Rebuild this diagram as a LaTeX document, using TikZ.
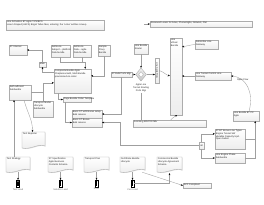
\documentclass[tikz,border=0pt]{standalone}
\usepackage{fontspec}
\setmainfont{Liberation Sans}
\usetikzlibrary{arrows.meta,shadows,shapes.geometric}
\tikzset{
 bx/.style={draw=gray!65, line width=0.35pt, top color=white, bottom color=gray!14, drop shadow={shadow xshift=0.6pt,shadow yshift=-0.6pt,opacity=0.25,fill=gray}, inner sep=0pt},
 txt/.style={font=\fontsize{2.35}{2.8}\selectfont, inner sep=0.8pt, align=left, text=black!85},
 con/.style={draw=gray!75, line width=0.35pt},
 arr/.style={con, -{Stealth[length=2pt,width=1.8pt,color=black]}},
 docst/.style={draw=gray!65, line width=0.35pt, top color=white, bottom color=gray!14},
 pnode/.style={inner sep=0pt, minimum width=3.2pt, minimum height=7pt},
}
\newcommand\mybx[6]{%
 \node[bx, minimum width={(#4-#2)*1pt}, minimum height={(#5-#3)*1pt}] (#1) at ({(#2+#4)/2},{(#3+#5)/2}) {};
 \node[txt, anchor=north west] at (#1.north west) {#6};}
\newcommand\mydoc[6]{%
 \fill[gray, opacity=0.25] ({#2+0.6},{#3+0.6}) -- ({#4+0.6},{#3+0.6}) -- ({#4+0.6},{#5-1.4}) .. controls ({#4-(#4-#2)*0.3+0.6},{#5-4.4}) and ({#2+(#4-#2)*0.4+0.6},{#5+2.6}) .. ({#2+0.6},{#5+0.6}) -- cycle;
 \draw[docst] (#2,#3) -- (#4,#3) -- (#4,{#5-2}) .. controls ({#4-(#4-#2)*0.3},{#5-5}) and ({#2+(#4-#2)*0.4},{#5+2}) .. (#2,#5) -- cycle;
 \node[inner sep=0pt, minimum width={(#4-#2)*1pt}, minimum height={(#5-#3)*1pt}] (#1) at ({(#2+#4)/2},{(#3+#5)/2}) {};
 \node[txt, anchor=north west] at (#1.north west) {#6};}
\newcommand\myperson[4]{%
 \node[pnode] (#1) at (#2,#3) {};
 \draw[black, line width=0.35pt, fill=white] ({#2-1.6},{#3-3.5}) rectangle ({#2+1.6},{#3+3.5});
 \fill[black] (#2,{#3-2.1}) circle (0.75);
 \fill[black] ({#2-0.9},{#3-1.1}) rectangle ({#2+0.9},{#3+2.9});
 \node[txt, anchor=north, align=center, text=black!60] at (#2,{#3+3.8}) {#4};}
\begin{document}
\begin{tikzpicture}[x=1pt,y=-1pt]
\useasboundingbox (0,0) rectangle (264,204);
\fill[white] (0,0) rectangle (264,204);

% boxes
\mybx{title}{6}{20}{104}{30}{Line Activation BT Agile TJ/S/BCS\\Lorem Draped (LBCS) Brigat Tellus Mes, entering; the `Lotus' writhes Lineup}
\mybx{topr}{150}{21}{252}{27}{Reserved Lorem for Aries, Phone/Agile, Network, Plat}
\mybx{A}{9}{45}{27}{55}{ST Internal}
\mybx{S}{39}{62}{46}{67}{Main}
\mybx{B}{51}{45}{70}{57}{Settle via\\Subject -- platform\\Data bundle}
\mybx{C}{73}{45}{91}{57}{Settle via\\Data -- agile\\Data bundle}
\mybx{D}{98}{45}{110}{56}{Sample\\Proxy\\Bundle}
\mybx{main}{54}{69}{91}{93}{Composite Bundle Agile\\Chaptersocket2, Multi Bundle\\provisioned via order}
\mybx{E}{9}{85}{31}{100}{Self-sufficient\\Subbundle}
\mybx{F}{33}{101}{53}{117}{Transport Model\\Lifecycle\\Subbundle}
\mybx{G}{63}{97}{91}{102}{Page Bundle Order Template}
\mybx{H}{72}{110}{102}{118}{Basic ST with Bonus setup\\Bulk reserve}
\mybx{I}{72}{118}{102}{127}{Basic ST Bonus\\Bulk reserve}
\mybx{MF}{111}{72}{132}{77}{ST Bulk Ports Mgr}
\mybx{LB}{134}{44}{148}{54}{Line Bundle\\Router}
\mybx{narrow}{155}{58}{159}{83}{}
\node[txt, rotate=-90] at (narrow.center) {Line Agile Flow};
\mybx{tall}{170}{38}{182}{115}{Line\\Virtual\\Bundle}
\mybx{SG}{195}{40}{218}{49}{Subscribe Line\\Gateway}
\mybx{LT}{195}{72}{231}{80}{Line Tunnel Control Line\\Gateway}
\mybx{BR}{233}{111}{259}{121}{Line Bundle BT PC\\Agile}
\mybx{INC}{133}{120}{206}{127}{Incoming ERI/CRI Mbr}
\mybx{Q1}{215}{129}{245}{149}{ST BT Bonus Line Types\\Engine Tunnel SW\\Variable Capacity Upd.\\Open Suites}
\mybx{Q2}{215}{153}{245}{163}{Line Engine Phase\\Subbundle}
\mybx{jn}{199}{142}{204}{149}{}
\node[txt] at (jn.center) {alt};
\mybx{P}{183}{183}{211}{188}{SCF Compliant}

% gateway
\node[diamond, draw=gray!70, line width=0.35pt, top color=gray!10, bottom color=gray!45, minimum width=11pt, minimum height=13pt, inner sep=0pt] (gw) at (141,74.5) {};
\node[diamond, draw=gray!60, fill=white, minimum width=5pt, minimum height=6pt, inner sep=0pt] at (gw.center) {};
\node[txt, align=center, anchor=north] (gwl) at (141,83) {Agile Line\\Tunnel Routing\\Ports Mgr};

% documents
\mydoc{TR}{22}{132}{45}{148}{Test Reporter}
\mydoc{K}{6}{157}{30}{172}{Test Strategy}
\mydoc{L}{48}{157}{73}{172}{ST Specification\\Agile Business\\Contents Schema}
\mydoc{M}{84}{157}{109}{172}{Transport Plan}
\mydoc{N}{120}{157}{145}{172}{Certificate Bundle\\Lifecycle}
\mydoc{O}{157}{157}{182}{172}{Commercial Bundle\\Lifecycle Agreement\\Schema}

% people
\myperson{iK}{18}{183.5}{Test Lead}
\myperson{iL}{60.5}{183.5}{Solution Lead}
\myperson{iM}{96.5}{183.5}{PCO}
\myperson{iN}{132.5}{183.5}{Cert Lead}

% connectors
\draw[arr] (S.north) |- (A.east);
\draw[arr] ([yshift=-3pt]main.north west) -| (S.south);
\draw[arr] (B.south) -- ++(0,5) -| ([xshift=-6pt]main.north east);
\draw[con] (C.south) -- ++(0,5);
\draw[arr] (D.south) |- ([yshift=-7pt]main.north east);
\draw[arr] (E.east) -- ++(12,0) |- ([yshift=-14pt]main.north west);
\draw[con] (F.north) -- ++(0,-8.5);
\draw[arr] ([xshift=4pt]main.south west) |- (G.west);
\draw[arr] ([xshift=2pt]G.south west) |- (I.west);
\draw[arr] (MF.south) |- (H.east);
\draw[arr] (jn.west) -| ([xshift=18pt]I.east) -- (I.east);
\draw[arr] (jn.north) |- ([yshift=-5pt]Q1.north west);
\draw[arr] (jn.south) |- (Q2.west);
\draw[arr] (Q2.east) -| ([xshift=-4pt]BR.south east);
\draw[con] (Q1.east) -- ++(10,0);
\draw[arr] ([xshift=-10pt]BR.north east) .. controls (254,92) and (246,77) .. (LT.east);
\node[txt, anchor=west] at (236,80) {Open Flow};
\draw[arr] (LT.west) -- (tall.east |- LT.west);
\draw[arr] (SG.west) .. controls (190,45) and (187,46) .. ([yshift=-9pt]tall.north east);
\draw[arr] ([xshift=38pt]INC.north west) -- ++(2,-2) -- ([xshift=1pt]tall.south);
\draw[arr] (LB.south) -- (gw.north);
\draw[arr] (MF.east) -- (gw.west);
\draw[arr] (gw.east) -- (narrow.west |- gw.east);
\draw[arr] (narrow.east) .. controls (164,72) and (166,75) .. ([yshift=-38pt]tall.north west);
\draw[con] (gwl.south) -- (gwl.south |- INC.north);
\draw[arr] ([xshift=4pt]E.south) .. controls +(4,14) and +(0,-12) .. ([xshift=-1pt]TR.north);
\draw[arr] ([xshift=-4pt]K.north) -- ([xshift=-4pt]K.north |- E.south);
\draw[arr] (K.south) -- (iK.north);
\draw[arr] (L.south) -- (iL.north);
\draw[arr] (M.south) -- (iM.north);
\draw[arr] (N.south) -- (iN.north);
\draw[arr] (iN.east) -| ([yshift=-1pt]O.south);
\draw[arr] ([xshift=-3pt]N.south east) -- (P.west);
\coordinate (tra) at (144,24);
\draw[arr] (tra) -- (topr.west);
\end{tikzpicture}
\end{document}
